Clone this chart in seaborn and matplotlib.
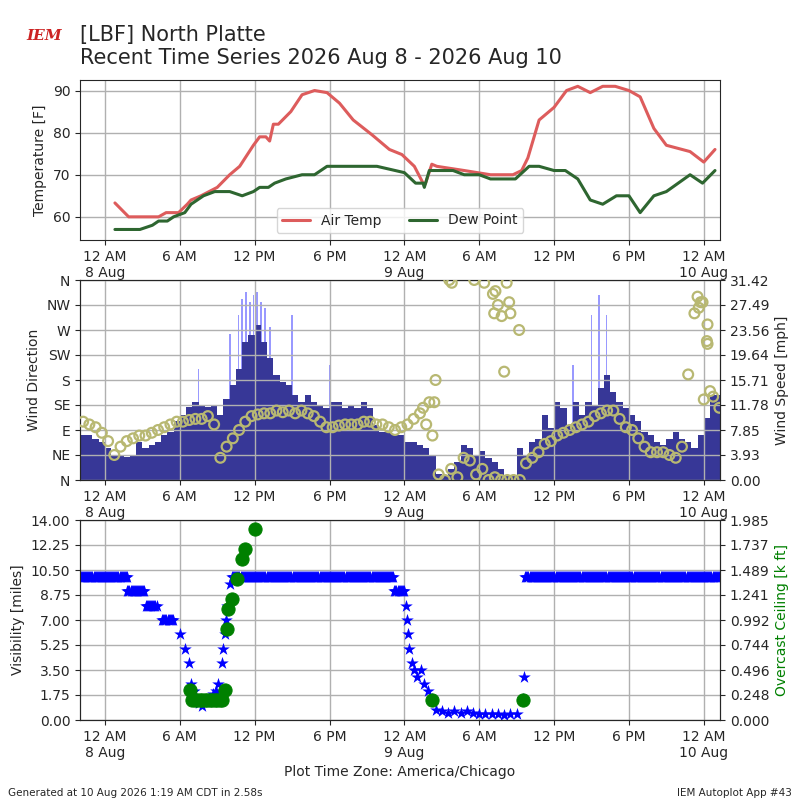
import numpy as np
import pandas as pd
import matplotlib
matplotlib.use("Agg")
import matplotlib.pyplot as plt
import matplotlib.dates as mdates
import seaborn as sns

BASE = pd.Timestamp("2026-08-08 00:00")

# temperature (hours after 8 Aug 00:00, F)
tmpf_h = [0.8, 1.9, 4.3, 4.9, 5.9, 6.6, 6.9, 7.7, 9.0, 10.0, 10.8, 11.9, 12.4, 12.9, 13.2, 13.5,
          13.9, 14.9, 15.8, 16.8, 17.8, 18.8, 19.9, 21.4, 22.8, 23.8, 24.8, 25.5, 25.6, 25.7, 26.2,
          26.6, 28.8, 30.9, 32.7, 33.4, 33.9, 34.8, 36.0, 37.0, 37.9, 38.9, 39.9, 40.9, 42.0, 42.9,
          44.0, 45.0, 46.9, 48.0, 48.9]
tmpf = [63.3, 60, 60, 61, 61, 63, 64, 65, 67, 70, 72, 77, 79, 79, 78, 82,
        82, 85, 89, 90, 89.5, 87, 83, 79.5, 76, 74.8, 72, 68, 67.5, 68, 72.5,
        72, 71, 70, 70, 71, 74, 83, 86, 90, 91, 89.5, 91, 91, 90, 88.5,
        81, 77, 75.5, 73, 76]
dwpf_h = [0.8, 2.8, 3.8, 4.3, 5.0, 5.5, 6.4, 6.9, 7.9, 8.8, 10.0, 11.0, 11.9, 12.4, 13.1, 13.6,
          14.5, 15.8, 16.8, 17.8, 21.8, 24.0, 24.9, 25.5, 25.6, 25.7, 26.0, 27.9, 28.8, 30.0,
          30.9, 32.9, 34.0, 34.8, 36.0, 36.9, 37.9, 38.9, 39.9, 41.0, 42.0, 42.9, 44.0, 45.0,
          46.9, 47.9, 48.9]
dwpf = [57, 57, 58, 59, 59, 60, 61, 63, 65, 66, 66, 65, 66, 67, 67, 68,
        69, 70, 70, 72, 72, 70.5, 68, 68, 67, 68, 71, 71, 70, 70,
        69, 69, 72, 72, 71, 71, 69, 64, 63, 65, 65, 61, 65, 66,
        70, 68, 71]

# wind, half hourly from -2 h
wind_h0 = -2.0
sknt_mph = [7.1, 7.1, 6.5, 6.0, 5.0, 3.7, 3.7, 3.6, 3.9, 6.0, 5.0, 5.5, 6.0, 7.0, 7.6, 9.2,
            10.2, 11.5, 12.3, 11.8, 11.5, 11.8, 10.2, 12.8, 14.9, 17.5, 21.7, 22.8, 24.4, 21.7,
            19.1, 16.5, 15.4, 14.9, 13.4, 12.3, 13.4, 12.3, 11.8, 11.3, 12.3, 12.3, 11.3, 11.8,
            11.3, 12.3, 11.3, 8.6, 7.6, 7.6, 7.1, 7.1, 6.0, 6.0, 5.5, 5.0, 3.7, 1.0,
            0.8, 1.8, 2.9, 5.5, 5.0, 3.9, 4.5, 3.4, 2.9, 1.8, 0.8, 0.8, 5.0, 3.9,
            6.0, 6.5, 10.2, 8.1, 12.3, 11.3, 8.6, 12.3, 10.2, 12.3, 11.8, 14.4, 16.5, 13.9,
            12.3, 11.3, 10.2, 9.2, 7.6, 7.1, 6.0, 5.5, 6.5, 7.6, 6.5, 6.0, 5.0, 7.1,
            9.7, 13.4, 13.4]
drct = [105, 100, 95, 85, 70, 45, 60, 70, 75, 80, 80, 85, 90, 95, 100, 105,
        105, 108, 110, 110, 115, 100, 40, 60, 75, 90, 105, 115, 118, 120,
        120, 125, 122, 125, 120, 125, 120, 115, 105, 95, 95, 98, 100, 100,
        100, 105, 105, 100, 100, 95, 90, 95, 100, 110, 120, 100, 80, 10,
        0, 20, 5, 40, 35, 10, 20, 0, 5, 0, 0, 0, 0, 30,
        40, 50, 65, 70, 80, 85, 90, 95, 100, 105, 115, 120, 125, 125,
        110, 95, 90, 75, 60, 50, 50, 50, 45, 40, 60, 190, 300, 320,
        250, 150, 130]
gust_h = [7.5, 10.0, 10.7, 11.0, 11.3, 11.6, 11.9, 12.2, 12.5, 12.8, 13.2, 15.0, 18.0, 37.5, 39.0, 39.6, 40.2]
gust_mph = [17.5, 23, 26, 28.5, 29.5, 28, 29, 29.5, 28, 27, 24, 26, 18, 18, 26, 29, 26]
xdir_h = [27.6, 27.8, 29.6, 30.4, 31.1, 31.5, 31.2, 32.2, 32.4, 32.5, 31.8, 33.2, 31.3, 26.5, 32.0,
          26.0, 25.5, 26.4, 47.5, 47.6, 47.9, 48.3, 48.3, 48.0, 48.5]
xdir = [360, 355, 360, 355, 335, 315, 300, 355, 320, 300, 295, 270, 340, 180, 195,
        140, 130, 140, 330, 310, 320, 280, 245, 145, 160]

# visibility: constant runs (5-minute obs) + single obs
run_start = [-2.0, 1.8, 3.3, 4.6, 10.2, 23.2, 33.7]
run_end = [1.8, 3.2, 4.2, 5.5, 23.2, 24.0, 49.3]
run_vis = [10, 9, 8, 7, 10, 9, 10]
vis_h = [6.0, 6.4, 6.7, 6.9, 7.1, 7.3, 7.5, 7.8, 8.1, 8.4, 8.7, 8.9, 9.1, 9.4, 9.5, 9.6, 9.7,
         9.8, 10.0, 24.1, 24.2, 24.3, 24.4, 24.6, 24.8, 25.0, 25.3, 25.6, 25.9, 26.2, 26.5,
         27.0, 27.5, 28.0, 28.5, 29.0, 29.5, 30.0, 30.5, 31.0, 31.5, 32.0, 32.5, 33.0, 33.5, 33.6]
vis = [6, 5, 4, 2.5, 2.0, 1.5, 1.2, 1.0, 1.3, 1.5, 1.8, 2.0, 2.5, 4, 5, 6, 7,
       8, 9.5, 8, 7, 6, 5, 4, 3.5, 3.0, 3.5, 2.5, 2.0, 1.5, 0.7,
       0.6, 0.5, 0.6, 0.5, 0.6, 0.5, 0.45, 0.4, 0.45, 0.4, 0.35, 0.4, 0.45, 1.5, 3.0]
ceil_h = [6.8, 7.0, 7.2, 7.4, 7.6, 7.8, 8.0, 8.2, 8.4, 8.6, 8.8, 9.0, 9.2, 9.4, 9.6, 9.75, 9.9,
          10.2, 10.6, 11.0, 11.2, 12.0, 26.2, 33.5]
ceil_kft = [0.298, 0.199, 0.199, 0.199, 0.199, 0.199, 0.199, 0.199, 0.199, 0.199, 0.199, 0.199,
            0.199, 0.199, 0.298, 0.9, 1.098, 1.198, 1.4, 1.595, 1.694, 1.892, 0.199, 0.199]

wspd_labels = ["0.00", "3.93", "7.85", "11.78", "15.71", "19.64", "23.56", "27.49", "31.42"]
ceil_labels = ["0.000", "0.248", "0.496", "0.744", "0.992", "1.241", "1.489", "1.737", "1.985"]


def to_time(hours):
    return BASE + pd.to_timedelta(np.asarray(hours, dtype=float), unit="h")


sns.set_style("ticks")
fig = plt.figure(figsize=(8, 8), dpi=100)
ax1 = fig.add_axes([0.1, 0.7, 0.8, 0.2])
ax2 = fig.add_axes([0.1, 0.4, 0.8, 0.25])
ax3 = fig.add_axes([0.1, 0.1, 0.8, 0.25])

xlim = (to_time([-2.0])[0], to_time([49.3])[0])


def fmt_time(x, pos=None):
    d = mdates.num2date(x)
    h = d.hour
    lab = "12 AM" if h == 0 else ("12 PM" if h == 12 else (f"{h} AM" if h < 12 else f"{h - 12} PM"))
    if h == 0:
        lab += "\n" + f"{d.day} Aug"
    return lab


# panel 1
sns.lineplot(x=to_time(tmpf_h), y=tmpf, ax=ax1, color="#dd5c5c", lw=2.2, label="Air Temp")
sns.lineplot(x=to_time(dwpf_h), y=dwpf, ax=ax1, color="#2e6630", lw=2.2, label="Dew Point")
ax1.set_ylim(54.5, 92.5)
ax1.set_yticks([60, 70, 80, 90])
ax1.set_ylabel("Temperature [F]")
ax1.legend(loc="lower center", ncol=2, fontsize=10)

# panel 2
wind_t = to_time(wind_h0 + 0.5 * np.arange(len(sknt_mph)))
ax2b = ax2.twinx()
ax2b.bar(to_time(gust_h), gust_mph, width=0.006, color="#9999ff", linewidth=0, zorder=1)
ax2b.bar(wind_t, sknt_mph, width=0.5 / 24, color="#373797", align="edge", linewidth=0, zorder=2)
ax2b.set_ylim(0, 31.42)
ax2b.set_yticks(np.linspace(0, 31.42, 9))
ax2b.set_yticklabels(wspd_labels)
ax2b.set_ylabel("Wind Speed [mph]")
ax2.set_zorder(ax2b.get_zorder() + 1)
ax2.patch.set_visible(False)
sns.scatterplot(x=wind_t + pd.Timedelta("15min"), y=drct, ax=ax2, marker="o", s=50,
                facecolor="none", edgecolor="#b8b872", linewidth=1.6, zorder=3)
sns.scatterplot(x=to_time(xdir_h), y=xdir, ax=ax2, marker="o", s=50,
                facecolor="none", edgecolor="#b8b872", linewidth=1.6, zorder=3)
ax2.set_ylim(0, 360)
ax2.set_yticks(np.arange(0, 361, 45))
ax2.set_yticklabels(["N", "NE", "E", "SE", "S", "SW", "W", "NW", "N"])
ax2.set_ylabel("Wind Direction")

# panel 3
obs_t, obs_v = [], []
for a, b, v in zip(run_start, run_end, run_vis):
    hs = np.arange(a, b, 5 / 60)
    obs_t.extend(hs)
    obs_v.extend([v] * len(hs))
obs_t.extend(vis_h)
obs_v.extend(vis)
sns.scatterplot(x=to_time(obs_t), y=obs_v, ax=ax3, marker="*", s=90, color="blue",
                edgecolor="blue", linewidth=0, zorder=3)
ax3.set_ylim(0, 14)
ax3.set_yticks(np.linspace(0, 14, 9))
ax3.set_yticklabels([f"{v:.2f}" for v in np.linspace(0, 14, 9)])
ax3.set_ylabel("Visibility [miles]")
ax3b = ax3.twinx()
sns.scatterplot(x=to_time(ceil_h), y=ceil_kft, ax=ax3b, s=90, color="green",
                edgecolor="green", zorder=4)
ax3b.set_ylim(0, 1.985)
ax3b.set_yticks(np.linspace(0, 1.985, 9))
ax3b.set_yticklabels(ceil_labels)
ax3b.set_ylabel("Overcast Ceiling [k ft]", color="green")

for ax in (ax1, ax2, ax3, ax2b, ax3b):
    ax.set_xlim(xlim)
    ax.xaxis.set_major_locator(mdates.HourLocator(byhour=[0, 6, 12, 18]))
    ax.xaxis.set_major_formatter(plt.FuncFormatter(fmt_time))
    ax.set_xlabel("")
    ax.set_title("")
for ax in (ax1, ax2, ax3):
    ax.grid(True, color="#b0b0b0", lw=1)
    ax.set_axisbelow(True)
ax2b.grid(False)
ax3b.grid(False)
ax3.set_xlabel("Plot Time Zone: America/Chicago")

fig.text(0.1, 0.915, "[LBF] North Platte\nRecent Time Series 2026 Aug 8 - 2026 Aug 10",
         fontsize=15, va="bottom", ha="left")
fig.text(0.055, 0.955, "IEM", color="#cc2222", fontsize=11, fontstyle="italic",
         fontweight="bold", ha="center", va="center", family="serif")
fig.text(0.01, 0.005, "Generated at 10 Aug 2026 1:19 AM CDT in 2.58s", fontsize=7.5)
fig.text(0.99, 0.005, "IEM Autoplot App #43", fontsize=7.5, ha="right")

fig.savefig("out.png", dpi=100)
